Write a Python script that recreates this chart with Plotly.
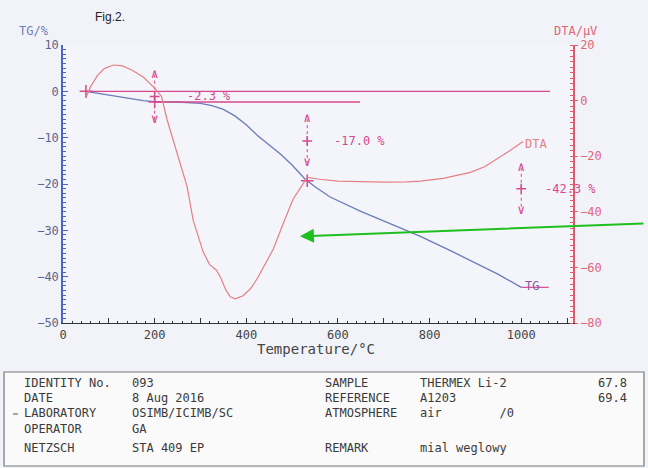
import plotly.graph_objects as go

# ---------------- data ----------------
tg_temp = [50, 75, 100, 125, 150, 175, 200, 250, 300, 325, 350, 375, 400, 425, 450,
           475, 500, 528, 550, 583, 650, 700, 780, 850, 900, 950, 1000]
tg_vals = [0, -0.4, -0.9, -1.3, -1.7, -2.0, -2.2, -2.3, -2.6, -3.1, -3.9, -5.3, -7.2,
           -9.6, -11.6, -13.6, -15.9, -18.9, -20.6, -22.8, -25.9, -28.0, -31.3, -34.6,
           -37.0, -39.5, -42.3]

dta_temp = [50, 60, 75, 90, 110, 130, 150, 175, 200, 215, 227, 240, 255, 271, 284, 295,
            306, 320, 335, 345, 355, 365, 376, 393, 410, 424, 440, 459, 480, 502, 533,
            560, 600, 650, 700, 750, 780, 830, 889, 920, 947, 975, 1004]
dta_vals = [1, 5, 9, 11.5, 12.8, 12.5, 11, 8.5, 4.5, 1.5, -6.8, -14, -22, -31, -43, -49,
            -54.5, -59, -61, -64, -68, -70.6, -71.3, -70.2, -67.5, -64, -59, -53.4, -44.5,
            -35.5, -27.6, -28.3, -29, -29.2, -29.3, -29.2, -29, -28, -25.8, -23.8, -21,
            -18, -14.7]

# step evaluation (TG)
step_temps = [200, 533, 1000]
step_labels = ["-2.3 %", "-17.0 %", "-42.3 %"]
step_arrow_top = [3.6, -6.0, -16.5]
step_arrow_bottom = [-6.2, -15.4, -25.7]
step_arrow_mid = [-1.1, -10.7, -21.0]
step_label_x = [266, 587, 1048]
step_label_y = [-0.9, -10.7, -21.0]
eval_temps = [50, 200, 533]
eval_vals = [0, -2.3, -19.3]

level_start = [50, 200]
level_end = [1063, 648]
level_vals = [0, -2.3]

x_ticks = [0, 100, 200, 300, 400, 500, 600, 700, 800, 900, 1000, 1100]
x_ticktext = ["0", "", "200", "", "400", "", "600", "", "800", "", "1000", ""]
tg_ticks = [-50, -40, -30, -20, -10, 0, 10]
dta_ticks = [-80, -60, -40, -20, 0, 20]

table_rows = [
    ["IDENTITY No.", "093", "SAMPLE", "THERMEX Li-2", "67.8"],
    ["DATE", "8 Aug 2016", "REFERENCE", "A1203", "69.4"],
    ["LABORATORY", "OSIMB/ICIMB/SC", "ATMOSPHERE", "air        /0", ""],
    ["OPERATOR", "GA", "", "", ""],
    ["NETZSCH", "STA 409 EP", "REMARK", "mial weglowy", ""],
]

# ---------------- style ----------------
MONO = "DejaVu Sans Mono"
MAG = "#d8488c"
TGC = "#6b7bb8"
DTAC = "#e57f86"
L, R, T, B = 63, 75, 45, 145
W, H = 648, 468
PW, PH = W - L - R, H - T - B


def px(x):
    return (x - L) / PW


def py(y):
    return (H - B - y) / PH


fig = go.Figure()

fig.add_trace(go.Scatter(x=tg_temp, y=tg_vals, mode="lines",
                         line=dict(color=TGC, width=1.3), yaxis="y", hoverinfo="skip"))
fig.add_trace(go.Scatter(x=dta_temp, y=dta_vals, mode="lines",
                         line=dict(color=DTAC, width=1.2), yaxis="y2", hoverinfo="skip"))

# level lines
for xs, xe, v in zip(level_start, level_end, level_vals):
    fig.add_trace(go.Scatter(x=[xs, xe], y=[v, v], mode="lines",
                             line=dict(color=MAG, width=1.3), hoverinfo="skip"))

# step arrows
for t, top, bot, mid in zip(step_temps, step_arrow_top, step_arrow_bottom, step_arrow_mid):
    fig.add_trace(go.Scatter(x=[t, t], y=[top, bot], mode="lines",
                             line=dict(color=MAG, width=1, dash="dot"), hoverinfo="skip"))
    fig.add_trace(go.Scatter(x=[t, t], y=[top, bot], mode="text", text=["∧", "∨"],
                             textposition="middle center",
                             textfont=dict(family=MONO, size=13, color=MAG), hoverinfo="skip"))
    fig.add_trace(go.Scatter(x=[t], y=[mid], mode="markers",
                             marker=dict(symbol="cross-thin-open", size=7, color=MAG,
                                         line=dict(color=MAG, width=1.5)), hoverinfo="skip"))

# evaluation points on TG curve
fig.add_trace(go.Scatter(x=eval_temps, y=eval_vals, mode="markers",
                         marker=dict(symbol="cross-thin-open", size=9, color=MAG,
                                     line=dict(color=MAG, width=1.5)), hoverinfo="skip"))

annotations = []
for lx, ly, txt in zip(step_label_x, step_label_y, step_labels):
    annotations.append(dict(x=lx, y=ly, xref="x", yref="y", text=txt.replace(" ", "&nbsp;"),
                            showarrow=False, xanchor="left", yanchor="middle",
                            font=dict(family=MONO, size=12, color=MAG)))

# curve labels
annotations.append(dict(x=1004, y=-11.4, xref="x", yref="y", text="DTA", showarrow=False,
                        xanchor="left", yanchor="middle",
                        font=dict(family=MONO, size=12, color=DTAC)))
annotations.append(dict(x=1004, y=-42.0, xref="x", yref="y", text="TG", showarrow=False,
                        xanchor="left", yanchor="middle",
                        font=dict(family=MONO, size=12, color="#8a5aa8")))
fig.add_trace(go.Scatter(x=[1000, 1060], y=[-42.3, -42.3], mode="lines",
                         line=dict(color=MAG, width=1.2), hoverinfo="skip"))

# axis titles
annotations.append(dict(x=px(51), y=py(31), xref="paper", yref="paper", text="TG/%",
                        showarrow=False, xanchor="right", yanchor="middle",
                        font=dict(family=MONO, size=12, color="#6f7fb5")))
annotations.append(dict(x=px(552), y=py(31), xref="paper", yref="paper", text="DTA/µV",
                        showarrow=False, xanchor="left", yanchor="middle",
                        font=dict(family=MONO, size=12, color="#e06878")))
annotations.append(dict(x=px(316), y=py(349), xref="paper", yref="paper",
                        text="Temperature/°C", showarrow=False, xanchor="center",
                        yanchor="middle", font=dict(family=MONO, size=14, color="#444")))
annotations.append(dict(x=px(93), y=py(17), xref="paper", yref="paper", text="Fig.2.",
                        showarrow=False, xanchor="left", yanchor="middle",
                        font=dict(family="Liberation Sans", size=12, color="#222")))

# green pointer arrow
annotations.append(dict(x=517, y=-31.3, xref="x", yref="y", text="", showarrow=True,
                        ax=345, ay=-13, axref="pixel", ayref="pixel",
                        arrowhead=2, arrowsize=1.4, arrowwidth=2, arrowcolor="#1fbf1f"))

# table
col_x = [22, 130, 323, 418, 596]
row_y = [383, 398, 413, 429, 448]
for ry, row in zip(row_y, table_rows):
    for cx, txt in zip(col_x, row):
        if txt:
            annotations.append(dict(x=px(cx), y=py(ry), xref="paper", yref="paper",
                                    text=txt.replace(" ", "&nbsp;"), showarrow=False,
                                    xanchor="left", yanchor="middle",
                                    font=dict(family=MONO, size=12, color="#3a3a3a")))

shapes = [dict(type="rect", xref="paper", yref="paper", x0=px(4), x1=px(644),
               y0=py(372), y1=py(466), line=dict(color="#777", width=1.2),
               fillcolor="#fafafa", layer="below"),
          dict(type="line", xref="paper", yref="paper", x0=px(13), x1=px(18),
               y0=py(414), y1=py(414), line=dict(color="#555", width=1))]

fig.update_layout(
    width=W, height=H, margin=dict(l=L, r=R, t=T, b=B),
    paper_bgcolor="#f1f3f9", plot_bgcolor="#f3f5fa",
    showlegend=False, annotations=annotations, shapes=shapes,
    xaxis=dict(range=[0, 1113], tickmode="array", tickvals=x_ticks, ticktext=x_ticktext,
               ticks="inside", ticklen=5, tickcolor="#333", showline=True,
               linecolor="#333", linewidth=1.2, showgrid=False, zeroline=False,
               tickfont=dict(family=MONO, size=12, color="#444"),
               minor=dict(dtick=20, ticks="inside", ticklen=2, tickcolor="#333",
                          showgrid=False)),
    yaxis=dict(range=[-50, 10], tickvals=tg_ticks, ticks="inside", ticklen=5,
               tickcolor="#4a64c8", showline=True, linecolor="#4a64c8", linewidth=1.5,
               showgrid=False, zeroline=False,
               tickfont=dict(family=MONO, size=12, color="#5a6690"),
               minor=dict(dtick=1, ticks="inside", ticklen=3, tickcolor="#4a64c8",
                          showgrid=False)),
    yaxis2=dict(range=[-80, 20], tickvals=dta_ticks, overlaying="y", side="right",
                ticks="outside", ticklen=3, tickcolor="#e05a6a", showline=True,
                linecolor="#e05a6a", linewidth=1.5, showgrid=False, zeroline=False,
                tickfont=dict(family=MONO, size=12, color="#e06878"),
                minor=dict(dtick=2, ticks="inside", ticklen=3, tickcolor="#e05a6a",
                           showgrid=False)),
)

fig.write_html("out.html", config={"displayModeBar": False},
               post_script="document.body.style.margin='0';document.body.style.overflow='hidden';")
